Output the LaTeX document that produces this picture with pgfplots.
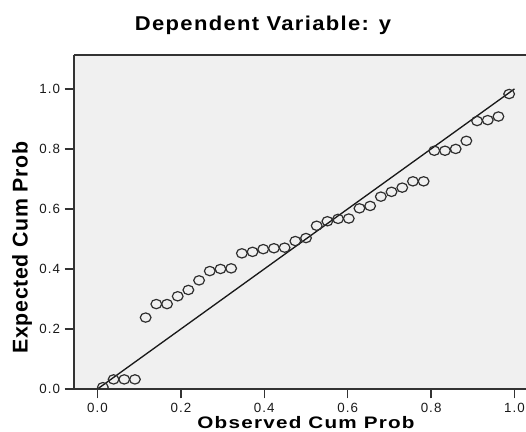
\documentclass[border=0pt]{standalone}
\usepackage{fontspec}
\setmainfont{Liberation Sans}
\newfontfamily\tickfont[LetterSpace=8]{Liberation Sans}
\newfontfamily\titlefont[LetterSpace=6]{Liberation Sans}
\newfontfamily\ylabfont[LetterSpace=3]{Liberation Sans}
\usepackage{pgfplots}
\pgfplotsset{compat=1.18}

\definecolor{plotbg}{HTML}{F0F0F0}
\definecolor{framegray}{HTML}{333333}
\definecolor{markgray}{HTML}{2E2E2E}

\begin{document}
\begin{tikzpicture}
\begin{axis}[
    scale only axis,
    width=339pt, height=250.5pt,
    xmin=-0.0564, xmax=1.0276,
    ymin=0, ymax=1.113,
    axis x line=box, axis y line=left,
    y axis line style={-},
    axis line style={framegray, line width=1pt},
    axis background/.style={fill=plotbg},
    xtick={0,0.2,0.4,0.6,0.8,1.0},
    ytick={0,0.2,0.4,0.6,0.8,1.0},
    xtick pos=bottom, ytick pos=left,
    tick align=outside,
    major tick length=7pt,
    tick style={framegray, line width=1pt},
    /pgf/number format/.cd, fixed, fixed zerofill, precision=1,
    assume math mode=true,
    /pgfplots/.cd,
    ticklabel style={font=\tickfont\fontsize{10}{11}\selectfont, text=black!90},
    clip=true, clip marker paths=true,
]
% diagonal reference line
\addplot[black!90, line width=1pt] coordinates {(0,0) (1,1)};
% observed vs expected cumulative probabilities
\addplot[only marks, mark=o, mark size=3.5pt, markgray,
    mark options={line width=0.9pt, xscale=1.15}] coordinates {
    (0.0128,0.006) (0.0385,0.032) (0.0641,0.032) (0.0897,0.032)
    (0.1154,0.238) (0.1410,0.283) (0.1667,0.283) (0.1923,0.309)
    (0.2179,0.330) (0.2436,0.362) (0.2692,0.393) (0.2949,0.400)
    (0.3205,0.402) (0.3462,0.452) (0.3718,0.457) (0.3974,0.466)
    (0.4231,0.469) (0.4487,0.471) (0.4744,0.493) (0.5000,0.503)
    (0.5256,0.544) (0.5513,0.559) (0.5769,0.567) (0.6026,0.568)
    (0.6282,0.602) (0.6538,0.610) (0.6795,0.641) (0.7051,0.657)
    (0.7308,0.671) (0.7564,0.692) (0.7821,0.692) (0.8077,0.794)
    (0.8333,0.794) (0.8590,0.800) (0.8846,0.827) (0.9103,0.893)
    (0.9359,0.896) (0.9615,0.908) (0.9872,0.983)
};
\end{axis}
\node[font=\titlefont\bfseries\fontsize{15}{17}\selectfont] at ([shift={(141.75pt,273pt)}]current axis.south west) {\scalebox{1.1}[1]{Dependent Variable: y}};
\node[font=\titlefont\bfseries\fontsize{12.5}{14}\selectfont, anchor=base, inner sep=0pt] at ([shift={(174pt,-29.5pt)}]current axis.south west) {\scalebox{1.24}[1]{Observed Cum Prob}};
\node[font=\ylabfont\bfseries\fontsize{16}{18}\selectfont, rotate=90] at ([shift={(-39pt,106.1pt)}]current axis.south west) {Expected Cum Prob};
\pgfresetboundingbox
\path[use as bounding box] ([shift={(-55.5pt,-32.25pt)}]current axis.south west) rectangle ([shift={(0pt,41.25pt)}]current axis.north east);
\end{tikzpicture}
\end{document}
